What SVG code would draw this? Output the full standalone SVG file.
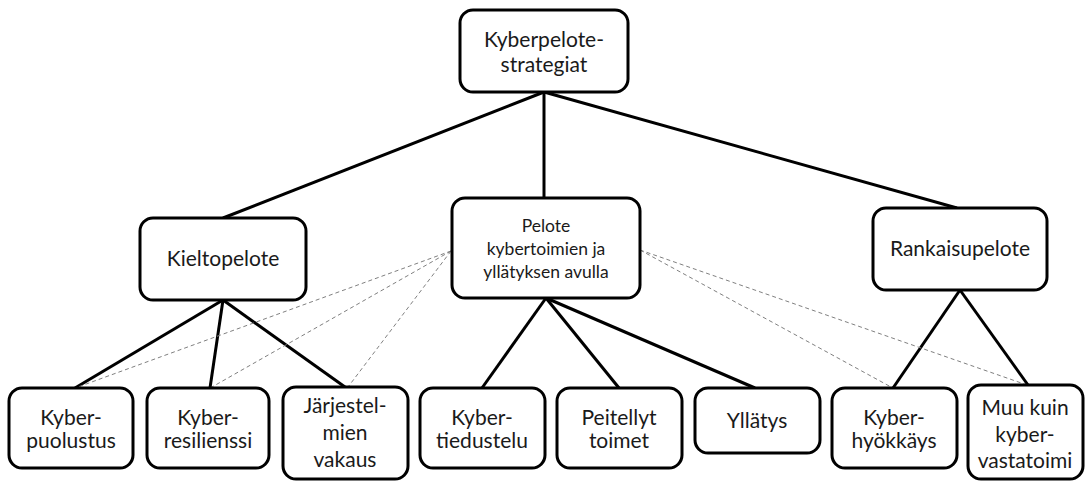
<svg xmlns="http://www.w3.org/2000/svg" width="1086" height="481" viewBox="0 0 1086 481">
<style>
.box{fill:#fff;stroke:#000;stroke-width:3}
.t{font-family:Lato,"Open Sans","Liberation Sans",sans-serif;font-size:21px;fill:#1a1a1a;text-anchor:middle}
.s{font-size:17.5px}
.c{stroke:#000;stroke-width:3;fill:none}
.d{stroke:#808080;stroke-width:1;stroke-dasharray:4 3;fill:none}
</style>
<rect width="1086" height="481" fill="#fff"/>
<g id="connectors">
<line class="c" x1="544" y1="92" x2="223" y2="218"/>
<line class="c" x1="544" y1="92" x2="544" y2="198"/>
<line class="c" x1="544" y1="92" x2="957" y2="208"/>
<line class="c" x1="223" y1="300" x2="75" y2="388"/>
<line class="c" x1="223" y1="300" x2="210" y2="388"/>
<line class="c" x1="223" y1="300" x2="345" y2="387"/>
<line class="c" x1="546" y1="298" x2="482" y2="388"/>
<line class="c" x1="546" y1="298" x2="619" y2="388"/>
<line class="c" x1="546" y1="298" x2="755" y2="388"/>
<line class="c" x1="960" y1="290" x2="893" y2="388"/>
<line class="c" x1="960" y1="290" x2="1028" y2="385"/>
<line class="d" x1="451" y1="251" x2="78" y2="387"/>
<line class="d" x1="451" y1="251" x2="212" y2="387"/>
<line class="d" x1="451" y1="251" x2="348" y2="387"/>
<line class="d" x1="640" y1="250" x2="891" y2="387"/>
<line class="d" x1="640" y1="250" x2="1027" y2="385"/>
</g>
<g id="root"><rect class="box" x="460" y="10" width="168" height="82" rx="13"/><text class="t" x="544" y="47">Kyberpelote-</text><text class="t" x="544" y="72">strategiat</text></g>
<g id="kieltopelote"><rect class="box" x="140" y="218" width="166" height="82" rx="13"/><text class="t" x="223" y="266">Kieltopelote</text></g>
<g id="pelote-kyber"><rect class="box" x="452" y="198" width="188" height="100" rx="13"/><text class="t s" x="546" y="232">Pelote</text><text class="t s" x="546" y="255">kybertoimien ja</text><text class="t s" x="546" y="278">yllätyksen avulla</text></g>
<g id="rankaisupelote"><rect class="box" x="873" y="208" width="174" height="82" rx="13"/><text class="t" x="960" y="256">Rankaisupelote</text></g>
<g id="kyberpuolustus"><rect class="box" x="9" y="388" width="124" height="80" rx="13"/><text class="t" x="71" y="425">Kyber-</text><text class="t" x="71" y="448">puolustus</text></g>
<g id="kyberresilienssi"><rect class="box" x="147" y="388" width="122" height="80" rx="13"/><text class="t" x="208" y="425">Kyber-</text><text class="t" x="208" y="448">resilienssi</text></g>
<g id="jarjestelmien"><rect class="box" x="283" y="387" width="125" height="92" rx="13"/><text class="t" x="345" y="413">Järjestel-</text><text class="t" x="345" y="440">mien</text><text class="t" x="345" y="467">vakaus</text></g>
<g id="kybertiedustelu"><rect class="box" x="420" y="388" width="125" height="80" rx="13"/><text class="t" x="482" y="425">Kyber-</text><text class="t" x="482" y="448">tiedustelu</text></g>
<g id="peitellyt"><rect class="box" x="557" y="388" width="125" height="80" rx="13"/><text class="t" x="619" y="425">Peitellyt</text><text class="t" x="619" y="448">toimet</text></g>
<g id="yllatys"><rect class="box" x="695" y="388" width="125" height="65" rx="13"/><text class="t" x="757" y="428">Yllätys</text></g>
<g id="kyberhyokkays"><rect class="box" x="832" y="388" width="125" height="80" rx="13"/><text class="t" x="894" y="425">Kyber-</text><text class="t" x="894" y="448">hyökkäys</text></g>
<g id="muu"><rect class="box" x="968" y="385" width="115" height="94" rx="13"/><text class="t" x="1025" y="415">Muu kuin</text><text class="t" x="1025" y="442">kyber-</text><text class="t" x="1025" y="468">vastatoimi</text></g>
</svg>
